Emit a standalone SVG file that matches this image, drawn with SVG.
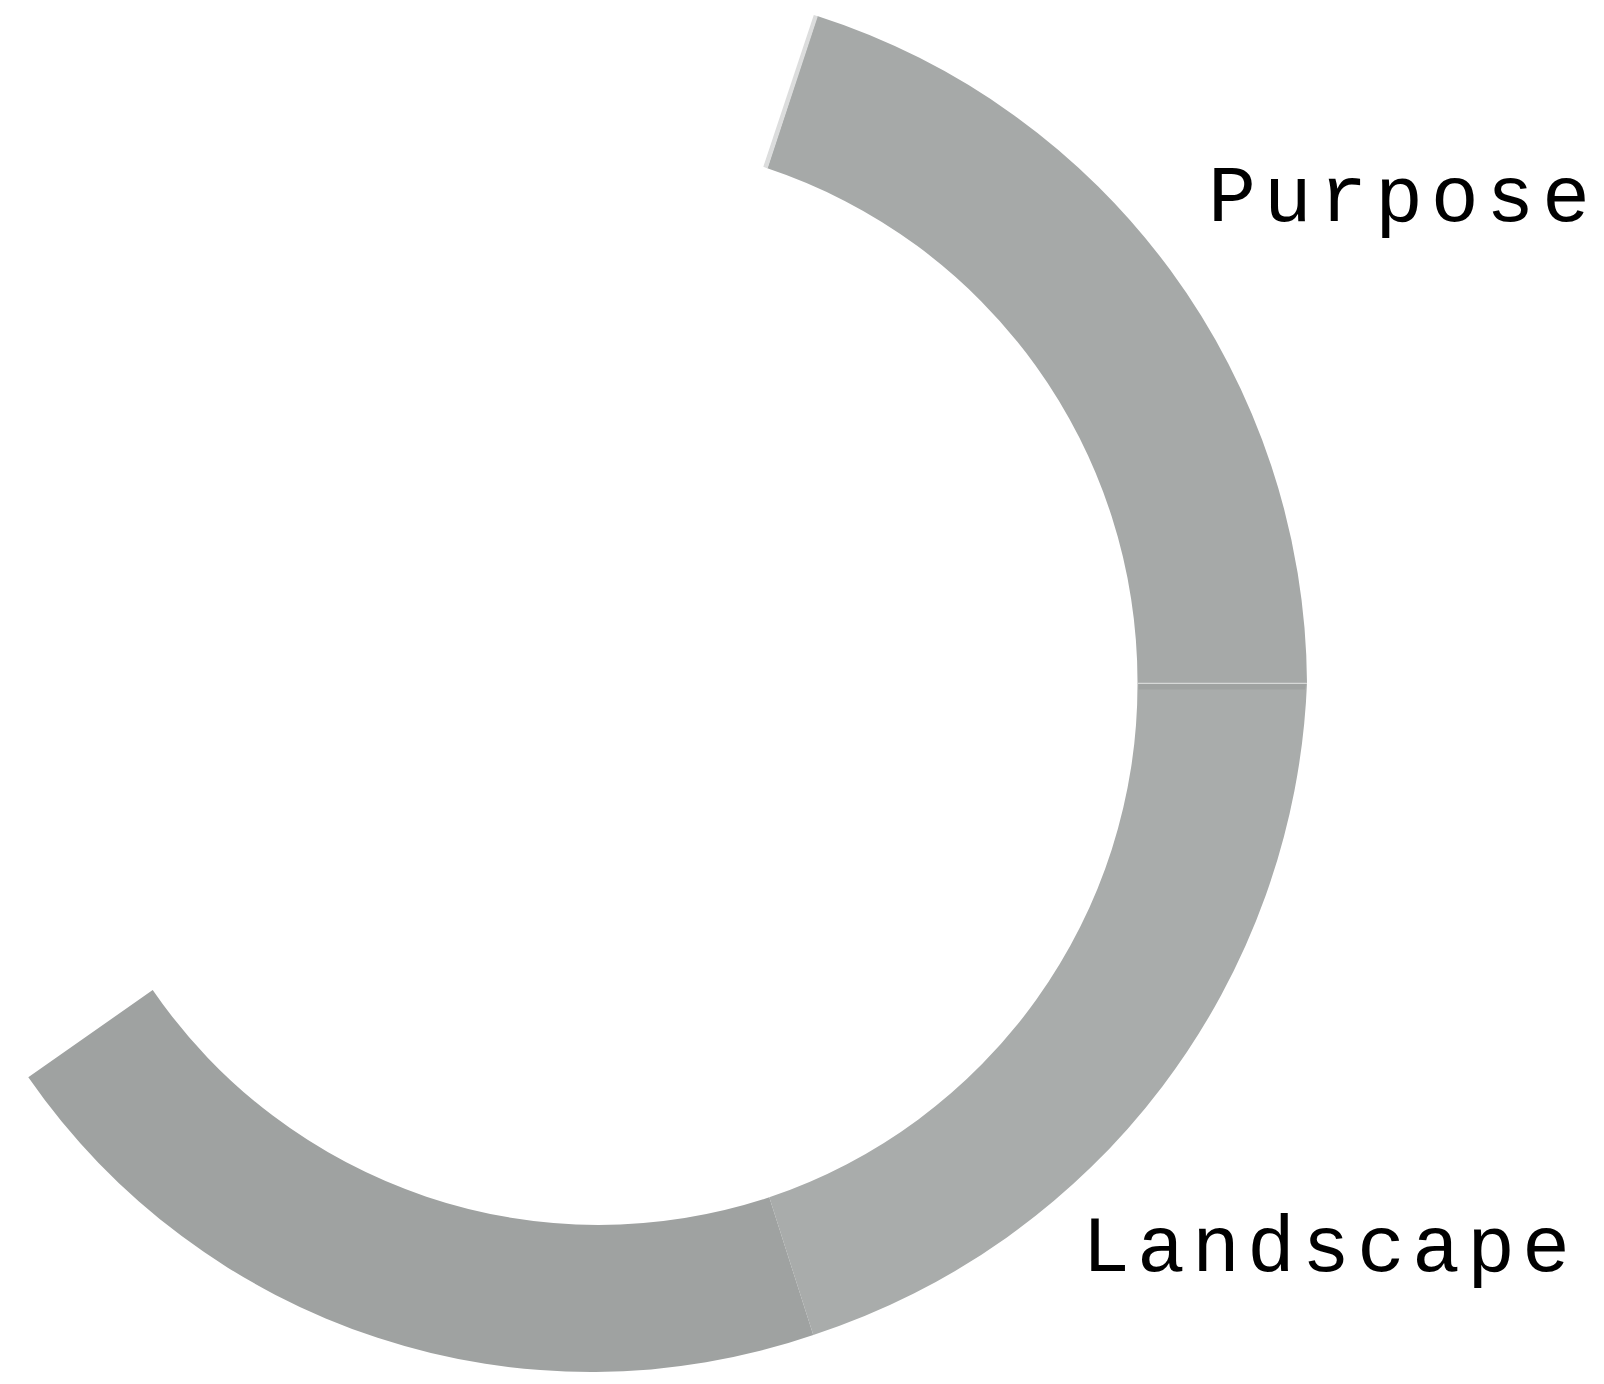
<svg xmlns="http://www.w3.org/2000/svg" width="1604" height="1384" viewBox="0 0 1604 1384">
<style>
.lbl{font-family:"Courier New","Nimbus Mono PS","Nimbus Mono L","FreeMono","Liberation Mono",monospace;font-size:80px;fill:#000}
</style>
<rect width="1604" height="1384" fill="#ffffff"/>
<g id="slice-purpose">
<path d="M 817.3 16 A 705 705 0 0 1 1307 683 L 1137.5 683 A 541 541 0 0 0 767.3 168.3 Z" fill="#a6a9a8"/>
<path d="M 813.8 15 L 817.8 16.2 L 767.6 168.6 L 763.3 166.8 Z" fill="#dcdddd"/>
</g>
<g id="slice-landscape">
<path d="M 1307 683 A 716 716 0 0 1 813.3 1335 L 769.3 1197.3 A 541 541 0 0 0 1137.5 683 Z" fill="#a9acab"/>
<path d="M 1138.5 684 L 1306 684 L 1305 689.5 L 1138.5 689.5 Z" fill="#9fa2a1"/>
<line x1="1138" y1="683.4" x2="1307" y2="683.4" stroke="#d6d8d7" stroke-width="1.4"/>
</g>
<g id="slice-third">
<path d="M 813.3 1335 A 685 685 0 0 1 28.3 1077.3 L 152.7 990 A 541 541 0 0 0 769.3 1197.3 Z" fill="#9fa2a1"/>
</g>
<g id="label-purpose"><text class="lbl" x="1208" y="221" textLength="382" lengthAdjust="spacing">Purpose</text></g>
<g id="label-landscape"><text class="lbl" x="1082" y="1271" textLength="488" lengthAdjust="spacing">Landscape</text></g>
</svg>
